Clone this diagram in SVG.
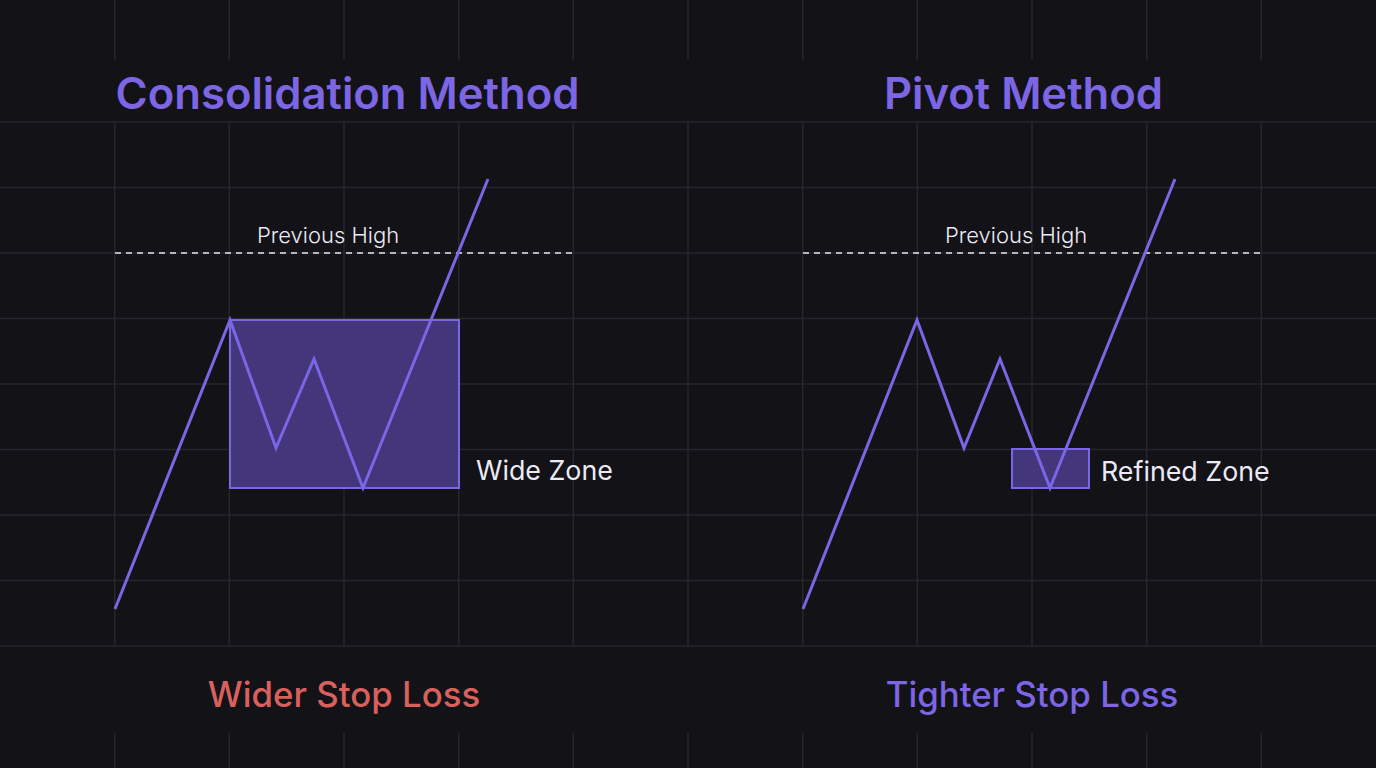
<svg xmlns="http://www.w3.org/2000/svg" width="1376" height="768" viewBox="0 0 1376 768">
<style>
.grid line{stroke:#26262c;stroke-width:1.5}
.band{fill:#121217}
.title{font-family:Inter,"Noto Sans","Liberation Sans",sans-serif;font-weight:600;font-size:43.6px;fill:#7c66e4;text-anchor:middle}
.note{font-family:Inter,"Noto Sans","Liberation Sans",sans-serif;font-weight:300;font-size:22px;fill:#ecebf5;text-anchor:middle}
.zlabel{font-family:Inter,"Noto Sans","Liberation Sans",sans-serif;font-weight:400;font-size:26.8px;fill:#ecebf5}
.result{font-family:Inter,"Noto Sans","Liberation Sans",sans-serif;font-weight:500;font-size:34.8px;text-anchor:middle}
.price{fill:none;stroke:#7b66e6;stroke-width:3;stroke-linejoin:miter;stroke-linecap:butt}
.zone{fill:#44367a;stroke:#7b66e6;stroke-width:2}
.prev{stroke:#e6e6ee;stroke-width:1.5;stroke-dasharray:6 5}
</style>
<rect width="1376" height="768" fill="#121217"/>
<g id="grid" class="grid">
<line x1="114.7" y1="0" x2="114.7" y2="768"/>
<line x1="229.3" y1="0" x2="229.3" y2="768"/>
<line x1="344" y1="0" x2="344" y2="768"/>
<line x1="458.7" y1="0" x2="458.7" y2="768"/>
<line x1="573.3" y1="0" x2="573.3" y2="768"/>
<line x1="688" y1="0" x2="688" y2="768"/>
<line x1="802.7" y1="0" x2="802.7" y2="768"/>
<line x1="917.3" y1="0" x2="917.3" y2="768"/>
<line x1="1032" y1="0" x2="1032" y2="768"/>
<line x1="1146.7" y1="0" x2="1146.7" y2="768"/>
<line x1="1261.3" y1="0" x2="1261.3" y2="768"/>
<line x1="0" y1="122" x2="1376" y2="122"/>
<line x1="0" y1="187.5" x2="1376" y2="187.5"/>
<line x1="0" y1="253" x2="1376" y2="253"/>
<line x1="0" y1="318.5" x2="1376" y2="318.5"/>
<line x1="0" y1="384" x2="1376" y2="384"/>
<line x1="0" y1="449.5" x2="1376" y2="449.5"/>
<line x1="0" y1="515" x2="1376" y2="515"/>
<line x1="0" y1="580.5" x2="1376" y2="580.5"/>
<line x1="0" y1="646" x2="1376" y2="646"/>
</g>
<rect class="band" x="0" y="60" width="1376" height="61"/>
<rect class="band" x="0" y="647" width="1376" height="86"/>

<g id="consolidation">
<text id="title-consolidation" class="title" x="347.5" y="109">Consolidation Method</text>
<g id="prev-high-left">
<line class="prev" x1="115" y1="253" x2="573" y2="253"/>
<text class="note" x="328" y="243">Previous High</text>
</g>
<g id="wide-zone">
<rect class="zone" x="230" y="320" width="229" height="168"/>
<text class="zlabel" x="476" y="480">Wide Zone</text>
</g>
<polyline id="price-left" class="price" points="115,609 230,320 276,448 314,359 363,488 488,179"/>
<text id="wider-stop" class="result" x="344" y="707" fill="#d9605c">Wider Stop Loss</text>
</g>

<g id="pivot">
<text id="title-pivot" class="title" x="1023.5" y="109">Pivot Method</text>
<g id="prev-high-right">
<line class="prev" x1="803" y1="253" x2="1261" y2="253"/>
<text class="note" x="1016" y="243">Previous High</text>
</g>
<g id="refined-zone">
<rect class="zone" x="1012" y="449" width="77" height="39"/>
<text class="zlabel" x="1101" y="481">Refined Zone</text>
</g>
<polyline id="price-right" class="price" points="803,609 917,320 964,448 1000,359 1050,488 1175,179"/>
<text id="tighter-stop" class="result" x="1032" y="707" fill="#7c66e4">Tighter Stop Loss</text>
</g>
</svg>
